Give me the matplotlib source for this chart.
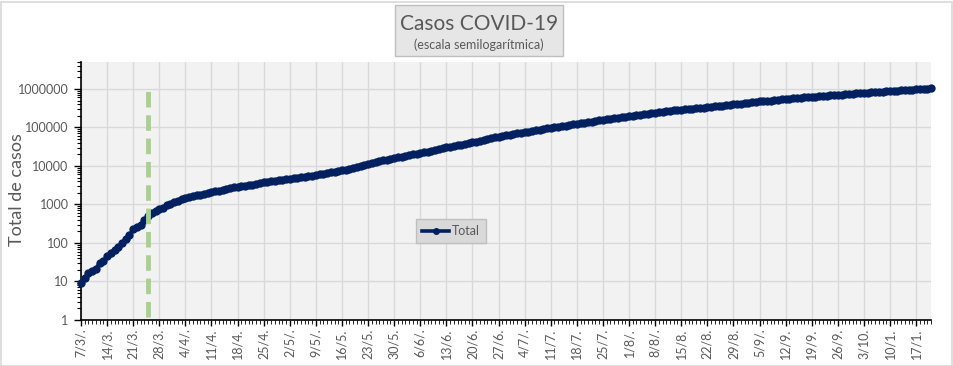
import matplotlib
matplotlib.use("Agg")
import matplotlib.pyplot as plt
import matplotlib.ticker as mticker
from matplotlib.patches import Rectangle
import numpy as np
import pandas as pd

# ---- data (cumulative cases, daily from 7 March) ----
start_date = "2020-03-07"
cases = [
    9, 12, 17, 19, 21, 31, 34, 45, 56, 65, 79, 97, 128, 158, 225,           # Mar 7-21
    266, 301, 387, 502, 589, 690, 745, 820, 966, 1054,                        # Mar 22-31
    1133, 1265, 1353, 1451, 1554, 1628, 1715, 1795, 1894, 1975,               # Apr 1-10
    2142, 2208, 2277, 2443, 2571, 2669, 2758, 2839, 2941, 3031,               # Apr 11-20
    3144, 3288, 3435, 3607, 3780, 3892, 4003, 4127, 4285, 4428,               # Apr 21-30
    4532, 4681, 4783, 4887, 5020, 5208, 5371, 5611, 5776, 6034,               # May 1-10
    6265, 6563, 6879, 7134, 7479, 7805, 8068, 8371, 8809, 9283,               # May 11-20
    9931, 10649, 11353, 12076, 12628, 13228, 13933, 14702, 15419, 16214, 16851,  # May 21-31
    17415, 18319, 19268, 20197, 21037, 22020, 22794, 23620, 24761, 25987,     # Jun 1-10
    27373, 28764, 30295, 31577, 32785, 34159, 35552, 37510, 39570, 41204,     # Jun 11-20
    42785, 44931, 47216, 49851, 52457, 55343, 57744, 59933, 62268, 64530,     # Jun 21-30
    67197, 69941, 72786, 75376, 77815, 80447, 83426, 87030, 90693, 94060,     # Jul 1-10
    97509, 100166, 103265, 106910, 111160, 114783, 119301, 122524, 126755, 130774,  # Jul 11-20
    136118, 141900, 148027, 153520, 158334, 162526, 167416, 173355, 178996, 185373, 191302,  # Jul 21-31
    196543, 201919, 206743, 213535, 220682, 228195, 235677, 241811, 246499, 253868,  # Aug 1-10
    260911, 268574, 276072, 282437, 289100, 294569, 299126, 305966, 312659, 320884,  # Aug 11-20
    329043, 336802, 342154, 350867, 359638, 370188, 380292, 392009, 401239, 408426, 417735,  # Aug 21-31
    428239, 439172, 451198, 461882, 471806, 478792, 488007, 500034, 512293, 524198,  # Sep 1-10
    535705, 546481, 555537, 565446, 577338, 589012, 601713, 613658, 622934, 631365,  # Sep 11-20
    640147, 652174, 664799, 678266, 691235, 702484, 711325, 723132, 736609, 751001,  # Sep 21-30
    765002, 779689, 790823, 798486, 809728, 824468, 840915, 856369, 871468, 883882,  # Oct 1-10
    894206, 903730, 917035, 931967, 949063, 965609, 979119, 989680, 1002662, 1018999, 1037325,  # Oct 11-21
]
tick_labels = ["7/3/.", "14/3.", "21/3.", "28/3.", "4/4/.", "11/4.", "18/4.", "25/4.",
               "2/5/.", "9/5/.", "16/5.", "23/5.", "30/5.", "6/6/.", "13/6.", "20/6.",
               "27/6.", "4/7/.", "11/7.", "18/7.", "25/7.", "1/8/.", "8/8/.", "15/8.",
               "22/8.", "29/8.", "5/9/.", "12/9.", "19/9.", "26/9.", "3/10.", "10/1.", "17/1."]
marker_date = "2020-03-25"
marker_range = [1.2, 1.2e6]
series_name = "Total"

dates = pd.date_range(start_date, periods=len(cases), freq="D")
tick_dates = pd.date_range(start_date, periods=len(tick_labels), freq="7D")

plt.rcParams['font.family'] = ['Lato', 'DejaVu Sans']
grey_text = "#595959"

fig = plt.figure(figsize=(9.54, 3.66), dpi=100)
W, H = 954, 366
ax = fig.add_axes([81 / W, (H - 320) / H, (931 - 81) / W, (320 - 62) / H])
ax.set_facecolor("#f2f2f2")

ax.plot(dates, cases, color="#002060", lw=2.6, marker="o", ms=5, mec="#002060",
        mfc="#002060", label=series_name, zorder=3, clip_on=False)
ax.vlines(pd.Timestamp(marker_date), marker_range[0], marker_range[1],
          colors="#a9d18e", lw=3.5, linestyles=(0, (3.2, 1.6)), zorder=4)

ax.set_yscale("log")
ax.set_ylim(1, 5e6)
ax.set_xlim(dates[0], dates[-1])

ax.yaxis.set_major_locator(mticker.FixedLocator([1, 10, 100, 1000, 10000, 100000, 1000000]))
ax.yaxis.set_major_formatter(mticker.FuncFormatter(lambda v, p: f"{int(round(v))}"))
ax.yaxis.set_minor_locator(mticker.LogLocator(base=10, subs=np.arange(2, 10), numticks=20))
ax.yaxis.set_minor_formatter(mticker.NullFormatter())

ax.set_xticks(tick_dates)
ax.set_xticklabels(tick_labels, rotation=90, va="top", ha="center")
ax.set_xticks(dates, minor=True)

ax.tick_params(axis="y", which="major", length=5, width=1, colors="black",
               labelcolor=grey_text, labelsize=9, pad=4)
ax.tick_params(axis="y", which="minor", length=3, width=0.8, colors="black")
ax.tick_params(axis="x", which="major", length=4, width=1, colors="black",
               labelcolor=grey_text, labelsize=9, pad=2)
ax.tick_params(axis="x", which="minor", length=3, width=0.6, colors="black")

ax.grid(True, which="major", color="#d9d9d9", lw=1, zorder=0)
ax.set_axisbelow(True)
for s in ["top", "right"]:
    ax.spines[s].set_visible(False)
for s in ["left", "bottom"]:
    ax.spines[s].set_color("black")
    ax.spines[s].set_linewidth(1.2)

fig.text(17 / W, 1 - 190 / H, "Total de casos", rotation=90, ha="center", va="center",
         fontsize=13, color=grey_text)

leg = ax.legend(loc="center", bbox_to_anchor=(451 / W, (H - 231) / H),
                bbox_transform=fig.transFigure, fontsize=9, frameon=True,
                fancybox=False, facecolor="#d9d9d9", edgecolor="#bfbfbf",
                framealpha=1, handlelength=2.2, handletextpad=0.2,
                borderpad=0.45, markerscale=0.8)
for t in leg.get_texts():
    t.set_color(grey_text)

# title box
fig.patches.append(Rectangle((395 / W, 1 - 56 / H), (563 - 395) / W, (56 - 5) / H,
                             transform=fig.transFigure, facecolor="#e7e6e6",
                             edgecolor="#bfbfbf", lw=1, zorder=5))
fig.text(479 / W, 1 - 24 / H, "Casos COVID-19", ha="center", va="center",
         fontsize=15, color=grey_text, zorder=6)
fig.text(479 / W, 1 - 45 / H, "(escala semilogarítmica)", ha="center", va="center",
         fontsize=9, color=grey_text, zorder=6)

# chart border
fig.patches.append(Rectangle((0.5 / W, 0.5 / H), (W - 2.5) / W, (H - 2) / H,
                             transform=fig.transFigure, facecolor="none",
                             edgecolor="#d9d9d9", lw=1.2, zorder=10))

fig.savefig("out.png", dpi=100)
